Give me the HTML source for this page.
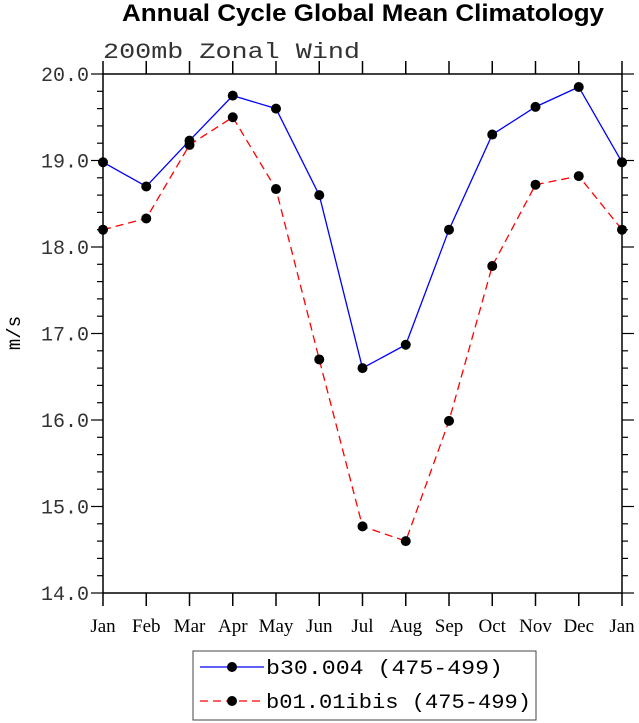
<!DOCTYPE html>
<html><head><meta charset="utf-8"><style>body{margin:0;background:#fff}svg{display:block}</style></head>
<body>
<svg id="c" width="639" height="723" xmlns="http://www.w3.org/2000/svg">
<text x="122" y="21" textLength="482" lengthAdjust="spacingAndGlyphs" font-family="Liberation Sans, sans-serif" font-weight="bold" font-size="24">Annual Cycle Global Mean Climatology</text>
<text x="103" y="58" textLength="257" lengthAdjust="spacingAndGlyphs" font-family="Liberation Mono, monospace" font-size="22" fill="#333">200mb Zonal Wind</text>
<text transform="translate(20,333) rotate(-90)" font-family="Liberation Mono, monospace" font-size="19" text-anchor="middle">m/s</text>
<g id="axes"></g><g id="series"></g>
<rect x="193" y="651" width="343" height="69" fill="none" stroke="#444"/>
<g><line x1="200" y1="667" x2="264" y2="667" stroke="#00f" stroke-width="1.3"/><circle cx="232" cy="667" r="5"/><text x="266" y="674" textLength="237" lengthAdjust="spacingAndGlyphs" font-family="Liberation Mono, monospace" font-size="20">b30.004 (475-499)</text></g>
<g><line x1="200" y1="701" x2="264" y2="701" stroke="#f00" stroke-width="1.3" stroke-dasharray="8,5"/><circle cx="232" cy="701" r="5"/><text x="266" y="708" textLength="265" lengthAdjust="spacingAndGlyphs" font-family="Liberation Mono, monospace" font-size="20">b01.01ibis (475-499)</text></g>
</svg>
<script>
const months=["Jan","Feb","Mar","Apr","May","Jun","Jul","Aug","Sep","Oct","Nov","Dec","Jan"];
const b30=[18.98,18.70,19.23,19.75,19.60,18.60,16.60,16.87,18.20,19.30,19.62,19.85,18.98];
const b01=[18.20,18.33,19.18,19.50,18.67,16.70,14.77,14.60,15.99,17.78,18.72,18.82,18.20];
const yTicks=[14,15,16,17,18,19,20];
const L=103,R=622,T=74,B=593,ymin=14,ymax=20;
const xs=i=>L+i*(R-L)/(months.length-1);
const ys=v=>B-(v-ymin)/(ymax-ymin)*(B-T);
const NS="http://www.w3.org/2000/svg";
function mk(p,t,a){const e=document.createElementNS(NS,t);for(const k in a)e.setAttribute(k,a[k]);p.appendChild(e);return e;}
const ax=document.getElementById('axes');
const fr=mk(ax,'rect',{x:L,y:T,width:R-L,height:B-T,fill:'none',stroke:'#000','stroke-width':1.5});


months.forEach((m,i)=>{const x=xs(i);
 mk(ax,'line',{x1:x,y1:B,x2:x,y2:B+13,stroke:'#000','stroke-width':1.5});
 mk(ax,'line',{x1:x,y1:T,x2:x,y2:T-13,stroke:'#000','stroke-width':1.5});
 const t=mk(ax,'text',{x:x,y:B+39,'text-anchor':'middle','font-family':'Liberation Serif, serif','font-size':19});
 t.textContent=m;
 
 
});
for(let v=ymin;v<=ymax+1e-9;v+=0.2){const y=ys(v);const major=Math.abs(v-Math.round(v))<1e-6;const len=major?12:6;
 mk(ax,'line',{x1:L,y1:y,x2:L-len,y2:y,stroke:'#000','stroke-width':1.2});
 mk(ax,'line',{x1:R,y1:y,x2:R+len,y2:y,stroke:'#000','stroke-width':1.2});}
yTicks.forEach(v=>{const t=mk(ax,'text',{x:L-14,y:ys(v)+7,'text-anchor':'end','font-family':'Liberation Mono, monospace','font-size':20,fill:'#333'});
 t.textContent=v.toFixed(1);
 
 });
const sg=document.getElementById('series');
function series(d,col,dash,name){
 const pl=mk(sg,'polyline',{points:d.map((v,i)=>xs(i)+','+ys(v)).join(' '),fill:'none',stroke:col,'stroke-width':1.3});
 if(dash)pl.setAttribute('stroke-dasharray',dash);
 
 
 d.forEach((v,i)=>{const c=mk(sg,'circle',{cx:xs(i),cy:ys(v),r:5,fill:'#000'});
 
 });
}
series(b30,'#00f',null,'b30');
series(b01,'#f00','8,5','b01');
</script>
</body></html>
